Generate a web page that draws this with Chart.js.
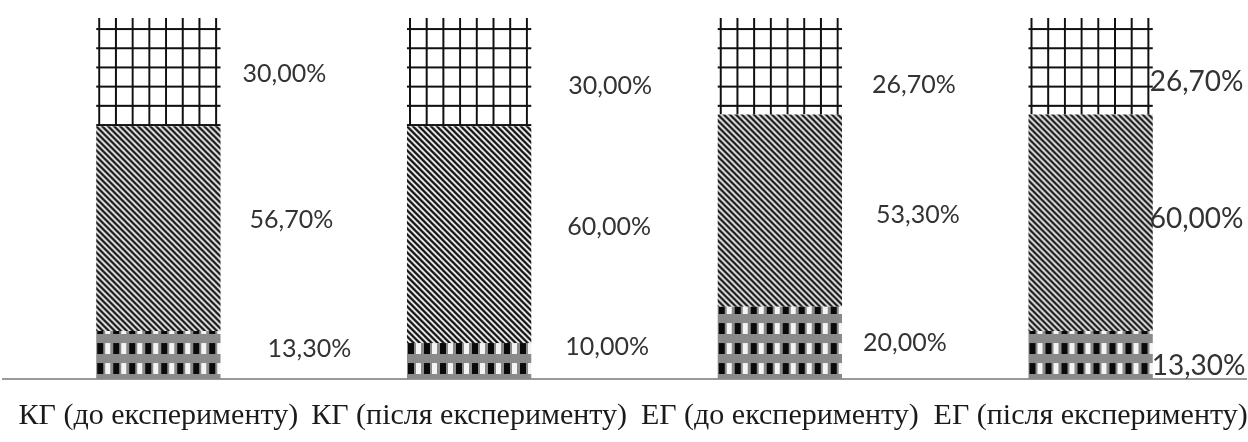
<!DOCTYPE html>
<html>
<head>
<meta charset="utf-8">
<script src="https://cdn.jsdelivr.net/npm/chart.js@4/dist/chart.umd.min.js"></script>
<style>
  html, body { margin: 0; padding: 0; background: #ffffff; overflow: hidden; }
  #wrap { width: 1250px; height: 442px; }
</style>
</head>
<body>
<div id="wrap"><canvas id="c" width="1250" height="442"></canvas></div>
<script>
// ---- data ----
const categories = ['КГ (до експерименту)', 'КГ (після експерименту)', 'ЕГ (до експерименту)', 'ЕГ (після експерименту)'];
const lowValues  = [13.3, 10.0, 20.0, 13.3];
const midValues  = [56.7, 60.0, 53.3, 60.0];
const highValues = [30.0, 30.0, 26.7, 26.7];

// ---- label placement (style only: offsets from bar right edge / segment middle) ----
const labelDx = [[47, 34, 21, -1], [29, 36, 34, -3], [22, 37, 30, -3]];
const labelDy = [[-6, -14, 0, 11], [-9, -8, 4, -4], [2, 14, 19, 16]];
const labelSize = [25, 25, 25, 28];

function fmt(v) { return v.toFixed(2).replace('.', ',') + '%'; }

function tile(w, h, draw) {
  const c = document.createElement('canvas');
  c.width = w; c.height = h;
  const g = c.getContext('2d');
  draw(g, w, h);
  return c;
}
const gridTile = tile(17, 19, (g, w, h) => {
  g.fillStyle = '#ffffff'; g.fillRect(0, 0, w, h);
  g.fillStyle = '#111111';
  g.fillRect(0, 0, 2, h);
  g.fillRect(0, 0, w, 2);
});
const hatchTile = tile(6, 6, (g, w, h) => {
  g.fillStyle = '#ffffff'; g.fillRect(0, 0, w, h);
  g.strokeStyle = '#151515'; g.lineWidth = 2.4;
  g.beginPath();
  g.moveTo(-2, -2); g.lineTo(8, 8);
  g.moveTo(-2, 4); g.lineTo(2, 8);
  g.moveTo(4, -2); g.lineTo(8, 2);
  g.stroke();
});
const checkTile = tile(16, 20, (g, w, h) => {
  g.fillStyle = '#8a8a8a'; g.fillRect(0, 0, w, h);
  g.fillStyle = '#0a0a0a'; g.fillRect(1, 4, 6, 11);
  g.fillStyle = '#f4f4f4'; g.fillRect(9, 4, 5, 11);
});

const cctx = document.getElementById('c').getContext('2d');
const tiles = [checkTile, hatchTile, gridTile];
const patterns = tiles.map(t => categories.map(() => cctx.createPattern(t, 'repeat')));

const patternPlugin = {
  id: 'patternAlign',
  beforeDatasetsDraw(chart) {
    chart.data.datasets.forEach((ds, i) => {
      const meta = chart.getDatasetMeta(i);
      meta.data.forEach((el, j) => {
        const left = el.x - el.width / 2;
        const top = Math.min(el.y, el.base);
        const bottom = Math.max(el.y, el.base);
        let m;
        if (i === 0) m = new DOMMatrix().translate(left, bottom - 20);
        else if (i === 1) m = new DOMMatrix().translate(left, top);
        else m = new DOMMatrix().translate(left + 2, top + 10).scale(16.7 / 17, 19.2 / 19);
        patterns[i][j].setTransform(m);
      });
    });
  }
};

const valueLabelPlugin = {
  id: 'valueLabels',
  afterDatasetsDraw(chart) {
    const ctx = chart.ctx;
    ctx.save();
    ctx.fillStyle = '#333333';
    ctx.textAlign = 'left';
    ctx.textBaseline = 'middle';
    chart.data.datasets.forEach((ds, i) => {
      const meta = chart.getDatasetMeta(i);
      meta.data.forEach((el, j) => {
        ctx.font = labelSize[j] + 'px Lato';
        const x = el.x + el.width / 2 + labelDx[i][j];
        const y = (el.y + el.base) / 2 + labelDy[i][j];
        ctx.fillText(fmt(ds.data[j]), x, y);
      });
    });
    ctx.restore();
  }
};

new Chart(cctx, {
  type: 'bar',
  data: {
    labels: categories,
    datasets: [
      { label: 'low', data: lowValues, backgroundColor: c => patterns[0][c.dataIndex] },
      { label: 'mid', data: midValues, backgroundColor: c => patterns[1][c.dataIndex] },
      { label: 'high', data: highValues, backgroundColor: c => patterns[2][c.dataIndex] }
    ]
  },
  options: {
    responsive: false,
    animation: false,
    layout: { padding: { top: 18, left: 3, right: 4, bottom: 8 } },
    datasets: { bar: { categoryPercentage: 1, barPercentage: 0.4, borderWidth: 0 } },
    plugins: { legend: { display: false }, tooltip: { enabled: false } },
    scales: {
      x: {
        stacked: true,
        grid: { display: false, drawTicks: false },
        border: { display: true, color: '#9a9a9a', width: 2 },
        ticks: {
          font: { family: 'Liberation Serif', size: 30 },
          color: '#1a1a1a',
          padding: 19,
          maxRotation: 0,
          minRotation: 0,
          autoSkip: false
        },
        afterFit(scale) { scale.paddingLeft = 0; scale.paddingRight = 0; scale.height = 55; }
      },
      y: { stacked: true, display: false, min: 0, max: 100 }
    }
  },
  plugins: [patternPlugin, valueLabelPlugin]
});
</script>
</body>
</html>
